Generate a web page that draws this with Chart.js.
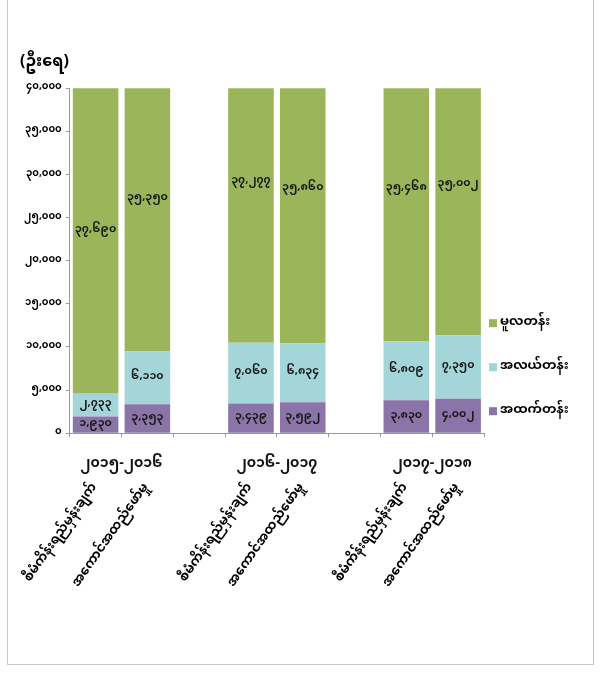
<!DOCTYPE html>
<html>
<head>
<meta charset="utf-8">
<script src="https://cdn.jsdelivr.net/npm/chart.js@4"></script>
<style>
    body { margin: 0; background: #fff; }
    #frame {
        position: absolute; left: 7px; top: -1px; width: 585px; height: 664px;
        border: 1px solid #c8c8c8;
    }
    #wrap { position: absolute; left: 0; top: 0; width: 601px; height: 677px; }
</style>
</head>
<body>
<div id="frame"></div>
<div id="wrap"><canvas id="enrolChart"></canvas></div>
<script>
// Categories (blank slots separate the year groups)
const categories = ['စီမံကိန်းရည်မှန်းချက်', 'အကောင်အထည်ဖော်မှု', '',
                    'စီမံကိန်းရည်မှန်းချက်', 'အကောင်အထည်ဖော်မှု', '',
                    'စီမံကိန်းရည်မှန်းချက်', 'အကောင်အထည်ဖော်မှု'];
const years = ['၂၀၁၅-၂၀၁၆', '၂၀၁၆-၂၀၁၇', '၂၀၁၇-၂၀၁၈'];
const yearSlots = [[0, 1], [3, 4], [6, 7]];
const seriesNames = ['အထက်တန်း', 'အလယ်တန်း', 'မူလတန်း'];

// Values (persons)
const highSchool = [1930, 3353, null, 3439, 3592, null, 3830, 4002];
const middleSchool = [2733, 6110, null, 7060, 6834, null, 6809, 7350];
const primarySchool = [37690, 35350, null, 37277, 35860, null, 35468, 35002];

const unitLabel = '(ဦးရေ)';
const yMax = 40000;
const yStep = 5000;

const fontStack = "'Noto Sans Myanmar', 'Padauk', 'Myanmar Text', 'Noto Sans', sans-serif";

function toMyanmar(n) {
    return Number(n).toLocaleString('en-US').replace(/[0-9]/g, d => String.fromCharCode(0x1040 + Number(d)));
}

// Value labels centered in each segment
const barLabels = {
    id: 'barLabels',
    afterDatasetsDraw(chart) {
        const ctx = chart.ctx;
        ctx.save();
        ctx.font = 'bold 11px ' + fontStack;
        ctx.fillStyle = '#1a1a1a';
        ctx.textAlign = 'center';
        ctx.textBaseline = 'middle';
        chart.data.datasets.forEach((ds, i) => {
            const meta = chart.getDatasetMeta(i);
            meta.data.forEach((bar, j) => {
                const v = ds.data[j];
                if (v == null) return;
                const p = bar.getProps(['x', 'y', 'base'], true);
                ctx.fillText(toMyanmar(v), p.x, (p.y + p.base) / 2);
            });
        });
        ctx.restore();
    }
};

// Year group labels under the axis
const yearLabels = {
    id: 'yearLabels',
    afterDraw(chart) {
        const ctx = chart.ctx;
        const xs = chart.scales.x;
        ctx.save();
        ctx.font = 'bold 14px ' + fontStack;
        ctx.fillStyle = '#111';
        ctx.textAlign = 'center';
        ctx.textBaseline = 'middle';
        years.forEach((y, k) => {
            const [a, b] = yearSlots[k];
            const x = (xs.getPixelForValue(a) + xs.getPixelForValue(b)) / 2;
            ctx.fillText(y, x, xs.top + 32);
        });
        ctx.restore();
    }
};

// Legend on the right, top item = top of stack
const sideLegend = {
    id: 'sideLegend',
    afterDraw(chart) {
        const ctx = chart.ctx;
        const area = chart.chartArea;
        ctx.save();
        ctx.font = 'bold 13px ' + fontStack;
        ctx.textBaseline = 'middle';
        ctx.textAlign = 'left';
        const ds = chart.data.datasets.slice().reverse();
        ds.forEach((d, k) => {
            const y = area.bottom - 110 + k * 44;
            ctx.fillStyle = d.backgroundColor;
            ctx.fillRect(area.right + 5, y - 4, 8, 8);
            ctx.fillStyle = '#000';
            ctx.fillText(d.label, area.right + 16, y);
        });
        ctx.restore();
    }
};

document.addEventListener('DOMContentLoaded', function() {
    const ctx = document.getElementById('enrolChart').getContext('2d');
    new Chart(ctx, {
        type: 'bar',
        data: {
            labels: categories,
            datasets: [{
                label: seriesNames[0],
                data: highSchool,
                backgroundColor: '#8a74a8'
            }, {
                label: seriesNames[1],
                data: middleSchool,
                backgroundColor: '#a3d5d9'
            }, {
                label: seriesNames[2],
                data: primarySchool,
                backgroundColor: '#9bb65a'
            }]
        },
        options: {
            responsive: true,
            maintainAspectRatio: false,
            animation: false,
            categoryPercentage: 0.88,
            barPercentage: 1,
            layout: { padding: { left: 20, right: 117, top: 55, bottom: 42 } },
            scales: {
                x: {
                    stacked: true,
                    // let the rotated labels run out to the left like the original
                    afterFit: scale => { scale.paddingLeft = 0; },
                    grid: { drawOnChartArea: false, tickLength: 4, color: '#999' },
                    border: { color: '#999' },
                    ticks: {
                        autoSkip: false,
                        minRotation: 55,
                        maxRotation: 55,
                        padding: 44,
                        color: '#000',
                        font: { family: fontStack, size: 13, weight: 'bold' }
                    }
                },
                y: {
                    stacked: true,
                    min: 0,
                    max: yMax,
                    grid: { drawOnChartArea: false, tickLength: 4, color: '#999' },
                    border: { color: '#999' },
                    ticks: {
                        stepSize: yStep,
                        color: '#000',
                        padding: 4,
                        font: { family: fontStack, size: 10, weight: 'bold' },
                        callback: v => toMyanmar(v)
                    }
                }
            },
            plugins: {
                title: {
                    display: true,
                    text: unitLabel,
                    align: 'start',
                    color: '#000',
                    font: { family: fontStack, size: 16, weight: 'bold' },
                    padding: { top: 0, bottom: 14 }
                },
                legend: { display: false },
                tooltip: { enabled: false }
            }
        },
        plugins: [barLabels, yearLabels, sideLegend]
    });
});
</script>
</body>
</html>
